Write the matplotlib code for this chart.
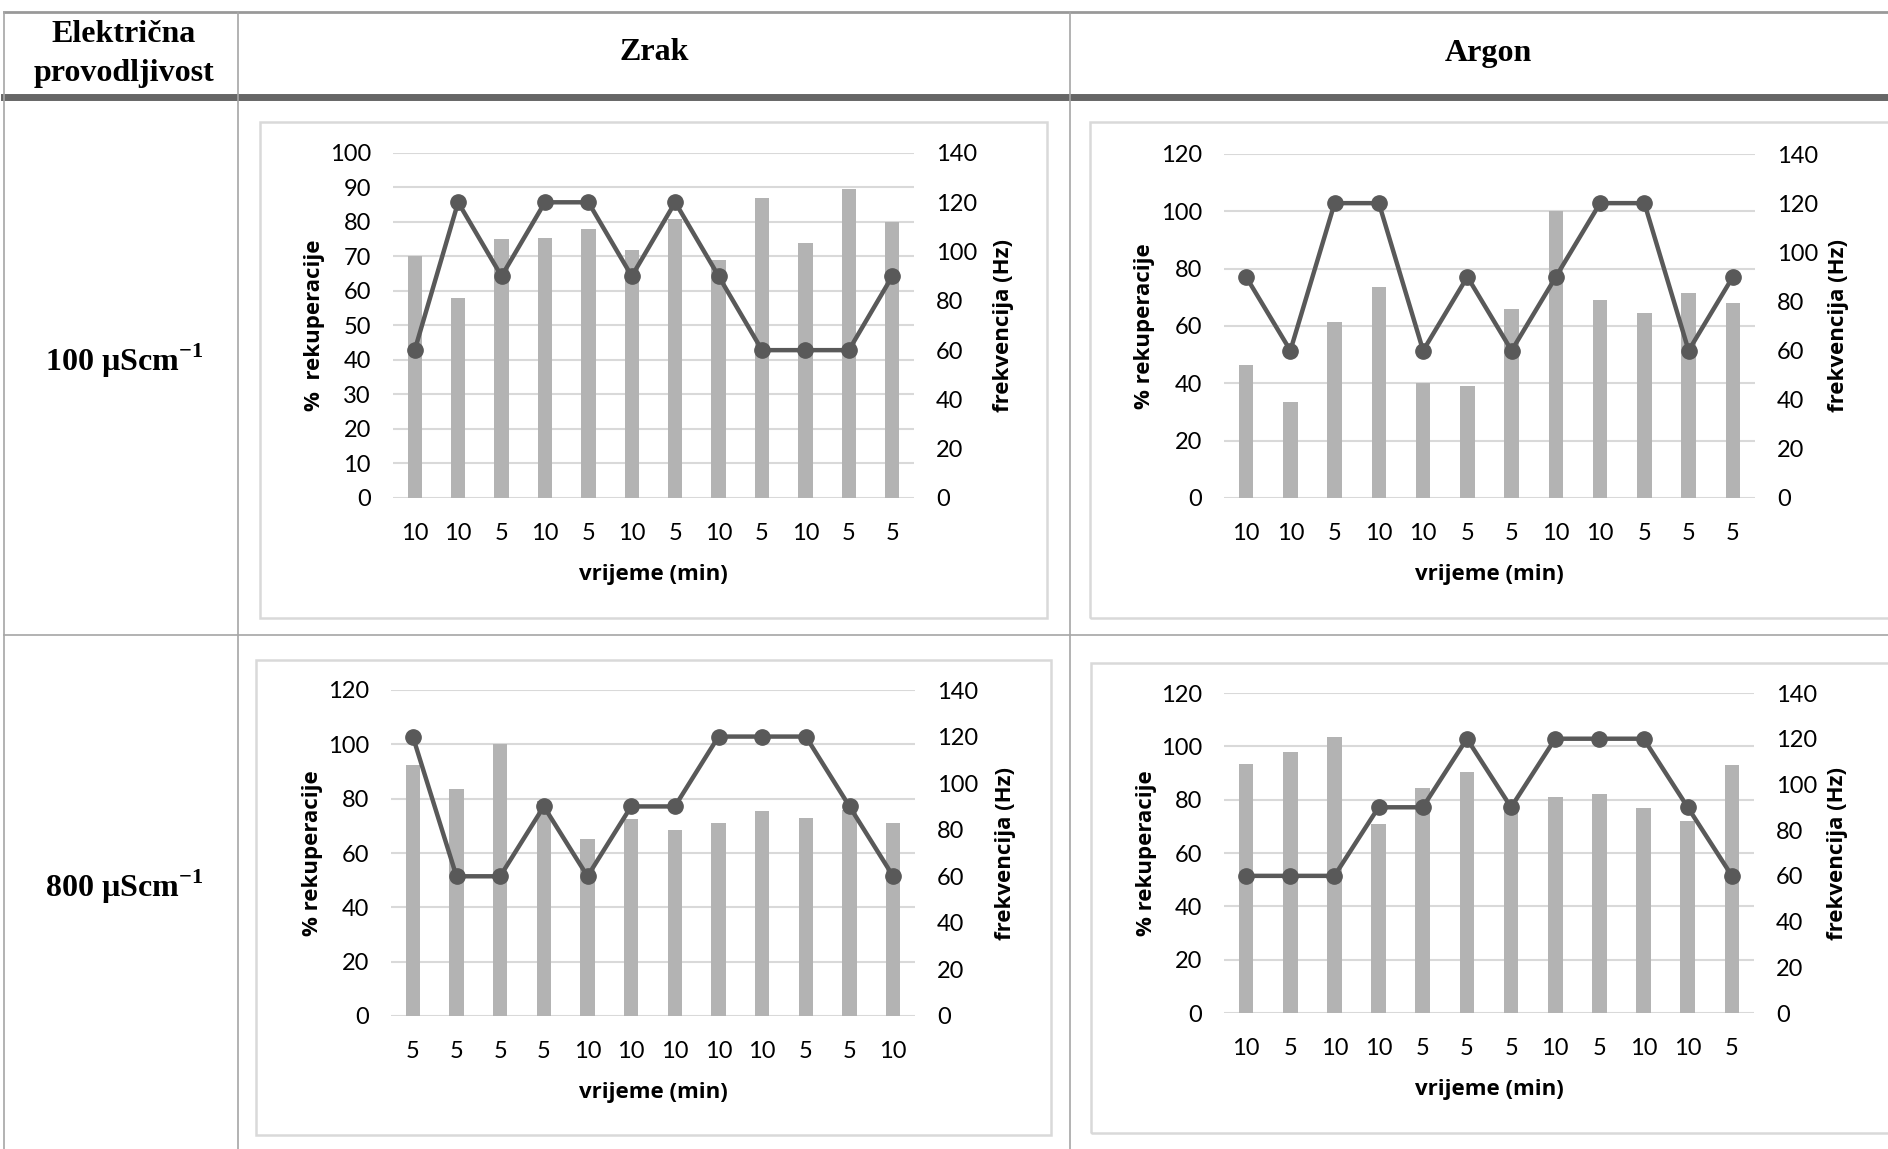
import matplotlib
matplotlib.use("Agg")
import matplotlib.pyplot as plt
from matplotlib.lines import Line2D
from matplotlib.patches import Rectangle

# vrijednosti ocitane s grafova
zrak100_t = ["10", "10", "5", "10", "5", "10", "5", "10", "5", "10", "5", "5"]
zrak100_rek = [70, 58, 75, 75.5, 78, 72, 81, 69, 87, 74, 89.5, 80]
zrak100_hz = [60, 120, 90, 120, 120, 90, 120, 90, 60, 60, 60, 90]

argon100_t = ["10", "10", "5", "10", "10", "5", "5", "10", "10", "5", "5", "5"]
argon100_rek = [46.5, 33.5, 61.5, 73.5, 40, 39, 66, 100, 69, 64.5, 71.5, 68]
argon100_hz = [90, 60, 120, 120, 60, 90, 60, 90, 120, 120, 60, 90]

zrak800_t = ["5", "5", "5", "5", "10", "10", "10", "10", "10", "5", "5", "10"]
zrak800_rek = [92.5, 83.5, 100, 79, 65, 72.5, 68.5, 71, 75.5, 73, 76, 71]
zrak800_hz = [120, 60, 60, 90, 60, 90, 90, 120, 120, 120, 90, 60]

argon800_t = ["10", "5", "10", "10", "5", "5", "5", "10", "5", "10", "10", "5"]
argon800_rek = [93.5, 98, 103.5, 71, 84.5, 90.5, 76, 81, 82, 77, 72, 93]
argon800_hz = [60, 60, 60, 90, 90, 120, 90, 120, 120, 120, 90, 60]

W, H = 1888, 1149
fig = plt.figure(figsize=(W / 100, H / 100), dpi=100)
fig.patch.set_facecolor("white")

plt.rcParams["mathtext.fontset"] = "custom"
plt.rcParams["mathtext.rm"] = "Liberation Serif:bold"
plt.rcParams["mathtext.bf"] = "Liberation Serif:bold"

tick_font = "Lato"
label_font = "Open Sans"
bar_col = "#b3b3b3"
line_col = "#595959"
grid_col = "#d9d9d9"


def px_rect(x0, y0, x1, y1):
    # pikseli -> udio slike
    return [x0 / W, 1 - y1 / H, (x1 - x0) / W, (y1 - y0) / H]


def hline(y, x0, x1, lw=1.2, color="#a6a6a6"):
    fig.add_artist(Line2D([x0 / W, x1 / W], [1 - y / H, 1 - y / H], lw=lw, color=color))


def vline(x, y0, y1, lw=1.2, color="#a6a6a6"):
    fig.add_artist(Line2D([x / W, x / W], [1 - y0 / H, 1 - y1 / H], lw=lw, color=color))


# okvir tablice
hline(12, 4, W, lw=2.0, color="#999999")
hline(97, 4, W, lw=5.0, color="#666666")
hline(635, 4, W, lw=1.2)
vline(4, 12, H, lw=1.2)
vline(238, 12, H, lw=1.2)
vline(1070, 12, H, lw=1.2)

hdr = dict(family="Liberation Serif", weight="bold", fontsize=23, ha="center", va="center")
fig.text(124 / W, 1 - 54 / H, "Električna\nprovodljivost", linespacing=1.45, **hdr)
fig.text(654 / W, 1 - 53 / H, "Zrak", **hdr)
fig.text(1488 / W, 1 - 53 / H, "Argon", **hdr)
fig.text(124 / W, 1 - 361 / H, "100 µScm$^{-1}$", **hdr)
fig.text(124 / W, 1 - 887 / H, "800 µScm$^{-1}$", **hdr)


def panel(frame, area, t, rek, hz, ymax, ystep, ylab, lab_l, lab_r):
    fx0, fy0, fx1, fy1 = frame
    fig.add_artist(Rectangle((fx0 / W, 1 - fy1 / H), (fx1 - fx0) / W, (fy1 - fy0) / H,
                             transform=fig.transFigure, fill=False, ec=grid_col, lw=1.8))
    x0, y0, x1, y1 = area
    ax = fig.add_axes(px_rect(x0, y0, x1, y1))
    ax2 = ax.twinx()
    pos = list(range(len(t)))
    ax.bar(pos, rek, width=0.33, color=bar_col, zorder=2)
    ax2.plot(pos, hz, color=line_col, lw=3.2, marker="o", ms=11, zorder=3)
    ax.set_xlim(-0.5, len(t) - 0.5)
    ax.set_ylim(0, ymax)
    ax.set_yticks(range(0, ymax + 1, ystep))
    ax2.set_ylim(0, 140)
    ax2.set_yticks(range(0, 141, 20))
    ax.set_xticks(pos)
    ax.set_xticklabels(t)
    ax.grid(axis="y", color=grid_col, lw=1.5, zorder=0)
    ax.set_axisbelow(True)
    for a in (ax, ax2):
        for s in a.spines.values():
            s.set_visible(False)
        a.tick_params(length=0, labelsize=17, colors="black")
        for lb in a.get_xticklabels() + a.get_yticklabels():
            lb.set_family(tick_font)
    ax.tick_params(axis="x", pad=18)
    ax.tick_params(axis="y", pad=16)
    ax2.tick_params(axis="y", pad=16)
    ax.set_zorder(ax2.get_zorder() - 1)
    ax2.patch.set_visible(False)
    lf = dict(family=label_font, weight="bold", fontsize=16)
    ax.set_ylabel(ylab, **lf)
    ax2.set_ylabel("frekvencija (Hz)", rotation=90, **lf)
    ax.set_xlabel("vrijeme (min)", **lf)
    ax.yaxis.set_label_coords((lab_l - x0) / (x1 - x0), 0.5)
    ax2.yaxis.set_label_coords((lab_r - x0) / (x1 - x0), 0.5)
    ax.xaxis.set_label_coords(0.5, -66 / (y1 - y0))


panel((260, 122, 1047, 618), (393, 153, 914, 498), zrak100_t, zrak100_rek, zrak100_hz,
      100, 10, "%  rekuperacije", 325, 993)
panel((1090, 122, 1900, 618), (1224, 154, 1755, 498), argon100_t, argon100_rek, argon100_hz,
      120, 20, "% rekuperacije", 1155, 1828)
panel((256, 660, 1051, 1135), (391, 690, 915, 1016), zrak800_t, zrak800_rek, zrak800_hz,
      120, 20, "% rekuperacije", 323, 995)
panel((1091, 663, 1900, 1133), (1224, 693, 1754, 1013), argon800_t, argon800_rek, argon800_hz,
      120, 20, "% rekuperacije", 1157, 1827)

fig.savefig("out.png", dpi=100)
